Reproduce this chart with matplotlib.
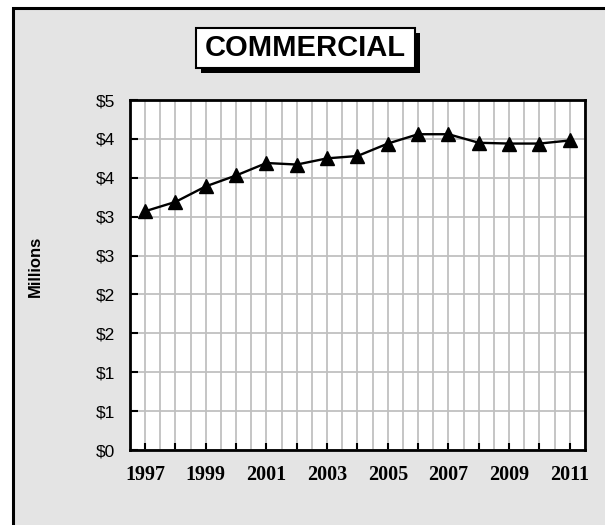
import matplotlib
matplotlib.use("Agg")
import matplotlib.pyplot as plt
from matplotlib.patches import Rectangle
from matplotlib.ticker import MultipleLocator, FuncFormatter
import math

years = [1997, 1998, 1999, 2000, 2001, 2002, 2003, 2004, 2005, 2006, 2007, 2008, 2009, 2010, 2011]
values = [3.07, 3.19, 3.39, 3.53, 3.69, 3.67, 3.75, 3.78, 3.94, 4.06, 4.06, 3.95, 3.94, 3.94, 3.98]
title_text = "COMMERCIAL"
ylabel_text = "Millions"

W, H = 605, 525
fig = plt.figure(figsize=(W / 100, H / 100), dpi=100)
fig.patch.set_facecolor("white")

def fx(px):
    return px / W

def fy(py):
    return 1 - py / H

# chart area background with border (top/left visible)
bg = Rectangle((fx(13), fy(560)), fx(640) - fx(13), fy(8) - fy(560),
               transform=fig.transFigure, facecolor="#e4e4e4", edgecolor="black",
               linewidth=2.2, zorder=-10)
fig.patches.append(bg)

ax = fig.add_axes([fx(130), fy(450), fx(585) - fx(130), fy(100) - fy(450)])
ax.set_zorder(1)
ax.set_facecolor("white")

xpos = list(range(len(years)))
ax.plot(xpos, values, color="black", linewidth=1.7, marker="^", markersize=10,
        markerfacecolor="black", markeredgecolor="black", zorder=3, clip_on=False)

ax.set_xlim(-0.5, len(years) - 0.5)
ax.set_ylim(0, 4.5)

ax.xaxis.set_major_locator(MultipleLocator(1))
ax.xaxis.set_minor_locator(MultipleLocator(0.5))
ax.set_xticks(xpos)
ax.set_xticklabels([str(y) if i % 2 == 0 else "" for i, y in enumerate(years)],
                   fontfamily="Liberation Serif", fontweight="bold", fontsize=14.5)

ax.yaxis.set_major_locator(MultipleLocator(0.5))

def money(v, pos):
    return "$%d" % int(math.floor(v + 0.5 + 1e-9))

ax.yaxis.set_major_formatter(FuncFormatter(money))
for lab in ax.get_yticklabels():
    lab.set_fontfamily("Liberation Sans")
    lab.set_fontsize(12.5)

ax.grid(True, which="both", axis="x", color="#c0c0c0", linewidth=1.3, zorder=1)
ax.grid(True, which="major", axis="y", color="#c0c0c0", linewidth=1.3, zorder=1)
ax.set_axisbelow(True)

ax.tick_params(axis="x", which="major", direction="in", length=5, width=1.5, pad=11, color="black")
ax.tick_params(axis="x", which="minor", length=0)
ax.tick_params(axis="y", which="major", direction="in", length=6, width=1.5, pad=11, color="black")
for s in ax.spines.values():
    s.set_linewidth(2)
    s.set_color("black")

fig.text(fx(35), fy(266), ylabel_text, rotation=90, ha="center", va="center",
         fontfamily="Liberation Sans", fontweight="bold", fontsize=12)

# title box with shadow
shadow = Rectangle((fx(201), fy(72.5)), fx(420) - fx(201), fy(33) - fy(72.5),
                   transform=fig.transFigure, facecolor="black", edgecolor="black",
                   linewidth=0, zorder=5)
box = Rectangle((fx(196), fy(68)), fx(415) - fx(196), fy(28) - fy(68),
                transform=fig.transFigure, facecolor="white", edgecolor="black",
                linewidth=1.5, zorder=6)
fig.patches.append(shadow)
fig.patches.append(box)
fig.text(fx(305.5), fy(48), title_text, ha="center", va="center",
         fontfamily="Liberation Sans", fontweight="bold", fontsize=21, zorder=7)

fig.savefig("out.png", dpi=100, facecolor=fig.get_facecolor())
